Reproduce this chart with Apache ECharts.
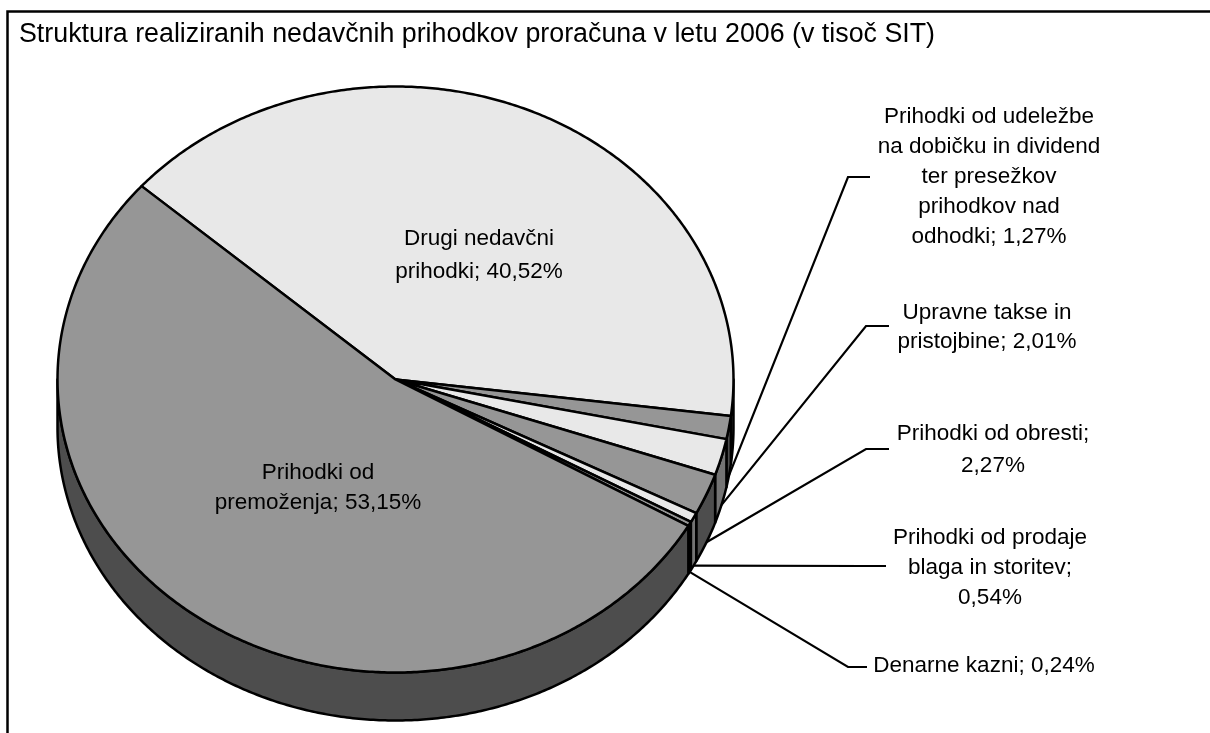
<!DOCTYPE html>
<html><head><meta charset="utf-8">
<style>html,body{margin:0;padding:0;background:#fff}#c{width:1210px;height:733px}</style>
<script src="https://cdn.jsdelivr.net/npm/echarts@6/dist/echarts.min.js"></script>
</head><body><div id="c"></div>
<script>
const titleText = 'Struktura realiziranih nedavčnih prihodkov proračuna v letu 2006 (v tisoč SIT)';
const categories = ['Drugi nedavčni prihodki','Prihodki od udeležbe na dobičku in dividend ter presežkov prihodkov nad odhodki','Upravne takse in pristojbine','Prihodki od obresti','Prihodki od prodaje blaga in storitev','Denarne kazni','Prihodki od premoženja'];
const values = [40.52,1.27,2.01,2.27,0.54,0.24,53.15];
const labelTexts = [
 'Drugi nedavčni\nprihodki; 40,52%',
 'Prihodki od udeležbe\nna dobičku in dividend\nter presežkov\nprihodkov nad\nodhodki; 1,27%',
 'Upravne takse in\npristojbine; 2,01%',
 'Prihodki od obresti;\n2,27%',
 'Prihodki od prodaje\nblaga in storitev;\n0,54%',
 'Denarne kazni; 0,24%',
 'Prihodki od\npremoženja; 53,15%'];

// layout
const CX=395.5, CY=379.5, RX=338, RY=293, DEPTH=48, START=311.3;
const topFill=['#E8E8E8','#969696','#E8E8E8','#969696','#E8E8E8','#969696','#969696'];
const wallFill=['#747474','#4D4D4D','#747474','#4D4D4D','#747474','#4D4D4D','#4D4D4D'];
// label centre x,y and line height; elbow x,y and end x of leader (null = none)
const labelPos=[[479,255,33],[989,177,30],[987,327,29],[993,450,32],[990,567.5,30],[984,666,30],[318,488,30]];
const leader=[null,[848,177,870],[866,326,889],[866,449,889],[863,566,886],[848,667,867],null];

const total=values.reduce((a,b)=>a+b,0);
const pt=(deg,dy=0)=>{const r=deg*Math.PI/180;return [CX+RX*Math.sin(r),CY-RY*Math.cos(r)+dy];};
function arc(a,b,dy){const n=Math.max(2,Math.ceil(Math.abs(b-a)*2));const o=[];for(let i=0;i<=n;i++)o.push(pt(a+(b-a)*i/n,dy));return o;}
const angles=[];let acc=START;values.forEach(v=>{const s=acc;acc+=v/total*360;angles.push([s,acc]);});
const STROKE={stroke:'#000',lineWidth:2.5,lineJoin:'round'};

function wall(i){
  let [a,b]=angles[i];const parts=[];
  [[90,270],[450,630]].forEach(([lo,hi])=>{
    const s=Math.max(a,lo),e=Math.min(b,hi);
    if(e>s)parts.push({type:'polygon',shape:{points:arc(s,e,0).concat(arc(s,e,DEPTH).reverse())},style:{fill:wallFill[i],...STROKE}});
  });
  return parts;
}
function renderItem(params,api){
  const i=params.dataIndex;
  const [a,b]=angles[i];
  const kids=wall(i);
  kids.push({type:'polygon',shape:{points:[[CX,CY]].concat(arc(a,b,0))},style:{fill:topFill[i],...STROKE}});
  if(leader[i]){
    const m=pt((a+b)/2,DEPTH),l=leader[i];
    kids.push({type:'polyline',z2:5,shape:{points:[m,[l[0],l[1]],[l[2],l[1]]]},style:{fill:null,stroke:'#000',lineWidth:2.2}});
  }
  kids.push({type:'text',z2:6,style:{x:labelPos[i][0],y:labelPos[i][1],text:labelTexts[i],fill:'#000',
    font:'22.5px "Liberation Sans",Arial,sans-serif',align:'center',verticalAlign:'middle',lineHeight:labelPos[i][2]}});
  return {type:'group',children:kids};
}
const chart=echarts.init(document.getElementById('c'),null,{renderer:'canvas'});
chart.setOption({
  animation:false,
  backgroundColor:'#fff',
  title:{text:titleText,left:14,top:16,textStyle:{fontFamily:'"Liberation Sans",Arial,sans-serif',fontWeight:'normal',fontSize:26.8,color:'#000'}},
  graphic:[{type:'polyline',silent:true,shape:{points:[[7.5,733],[7.5,11.5],[1210,11.5]]},style:{fill:null,stroke:'#000',lineWidth:2.5}}],
  series:[{type:'custom',coordinateSystem:'none',renderItem,clip:false,
    data:categories.map((c,i)=>({name:c,value:values[i]}))}]
});
</script></body></html>
